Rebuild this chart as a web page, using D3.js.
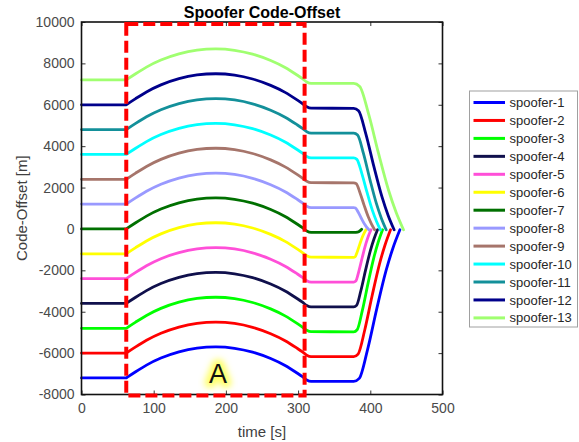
<!DOCTYPE html>
<html>
<head>
<meta charset="utf-8">
<script src="https://cdn.jsdelivr.net/npm/d3@7/dist/d3.min.js"></script>
<style>
  html, body { margin: 0; padding: 0; background: #ffffff; }
  svg { display: block; font-family: "Liberation Sans", Arial, sans-serif; }
</style>
</head>
<body>
<svg id="chart" width="579" height="442"></svg>
<script>
// ---------------- DATA ----------------
const seriesNames = ["spoofer-1","spoofer-2","spoofer-3","spoofer-4","spoofer-5","spoofer-6","spoofer-7",
                     "spoofer-8","spoofer-9","spoofer-10","spoofer-11","spoofer-12","spoofer-13"];
const seriesColors = ["#0000ff","#ff0000","#00ff00","#10104c","#ff4fd8","#ffff00","#007000",
                      "#9999ff","#a6756b","#00ffff","#13909a","#00008b","#a0ff70"];

// shared time grid (s) for the constant / arc / post-arc part
const timeArc = [0, 62, 63, 75, 90, 110, 135, 160, 186, 212, 237, 262, 282, 298, 306, 312, 318, 377];

// code offset (m) of each spoofer on timeArc
const arcValues = [
  [-7200,-7200,-7176,-6900,-6580,-6240,-5940,-5760,-5700,-5766,-5954,-6264,-6600,-6950,-7140,-7300,-7365,-7370],
  [-6000,-6000,-5976,-5700,-5380,-5040,-4740,-4560,-4500,-4566,-4754,-5064,-5400,-5750,-5940,-6100,-6165,-6170],
  [-4800,-4800,-4776,-4500,-4180,-3840,-3540,-3360,-3300,-3366,-3554,-3864,-4200,-4550,-4740,-4900,-4965,-4970],
  [-3600,-3600,-3576,-3300,-2980,-2640,-2340,-2160,-2100,-2166,-2354,-2664,-3000,-3350,-3540,-3700,-3765,-3770],
  [-2400,-2400,-2376,-2100,-1780,-1440,-1140,-960,-900,-966,-1154,-1464,-1800,-2150,-2340,-2500,-2565,-2570],
  [-1200,-1200,-1176,-900,-580,-240,60,240,300,234,46,-264,-600,-950,-1140,-1300,-1365,-1370],
  [0,0,24,300,620,960,1260,1440,1500,1434,1246,936,600,250,60,-100,-165,-170],
  [1200,1200,1224,1500,1820,2160,2460,2640,2700,2634,2446,2136,1800,1450,1260,1100,1035,1030],
  [2400,2400,2424,2700,3020,3360,3660,3840,3900,3834,3646,3336,3000,2650,2460,2300,2235,2230],
  [3600,3600,3624,3900,4220,4560,4860,5040,5100,5034,4846,4536,4200,3850,3660,3500,3435,3430],
  [4800,4800,4824,5100,5420,5760,6060,6240,6300,6234,6046,5736,5400,5050,4860,4700,4635,4630],
  [6000,6000,6024,6300,6620,6960,7260,7440,7500,7434,7246,6936,6600,6250,6060,5900,5835,5830],
  [7200,7200,7224,7500,7820,8160,8460,8640,8700,8634,8446,8136,7800,7450,7260,7100,7035,7030]
];

// converging tail of each spoofer (after t = 377 s)
const tailTimes = [
  [384.7, 396.2, 409, 421.8, 431.4, 441],
  [383.1, 392.3, 402.5, 412.7, 420.4, 428],
  [381.8, 389, 397, 405, 411, 417],
  [381, 386.9, 393.5, 400.1, 405.1, 410],
  [379.9, 384.2, 389, 393.8, 397.4, 401],
  [379, 382.1, 385.5, 388.9, 391.5, 394],
  [380, 384, 386.5, 388],
  [379.5, 383.3, 387.5, 391.7, 394.9, 398],
  [380.5, 385.7, 391.5, 397.3, 401.7, 406],
  [381.4, 388.1, 395.5, 402.9, 408.5, 414],
  [382.4, 390.5, 399.5, 408.5, 415.3, 422],
  [383.7, 393.8, 405, 416.2, 424.6, 433],
  [385.3, 397.7, 411.5, 425.3, 435.7, 446]
];
const tailValues = [
  [-7223, -5831, -3852, -2019, -920, -40],
  [-6047, -4883, -3228, -1695, -776, -40],
  [-4871, -3935, -2604, -1371, -632, -40],
  [-3695, -2987, -1980, -1047, -488, -40],
  [-2519, -2039, -1356, -723, -344, -40],
  [-1343, -1091, -732, -399, -200, -40],
  [-165, -130, -70, -15],
  [1009, 805, 516, 249, 88, -40],
  [2185, 1753, 1140, 573, 232, -40],
  [3361, 2701, 1764, 897, 376, -40],
  [4537, 3649, 2388, 1221, 520, -40],
  [5713, 4597, 3012, 1545, 664, -40],
  [6889, 5545, 3636, 1869, 808, -40]
];

const xTicks = [0, 100, 200, 300, 400, 500];
const yTicks = [-8000, -6000, -4000, -2000, 0, 2000, 4000, 6000, 8000, 10000];
const boxX = [62, 309];      // region "A" (time, s)
const boxY = [-8050, 9900];  // region "A" (code offset, m)
const boxLabel = {text: "A", t: 189, v: -7450};

// ---------------- CHART ----------------
const svg = d3.select("#chart");
const x = d3.scaleLinear().domain([0, 500]).range([81.5, 442.5]);
const y = d3.scaleLinear().domain([-8000, 10000]).range([394.5, 22]);
const plainFormat = d => String(d);

svg.append("rect").attr("width", 579).attr("height", 442).attr("fill", "#ffffff");

const defs = svg.append("defs");
const glow = defs.append("filter").attr("id", "glow")
  .attr("x", "-60%").attr("y", "-60%").attr("width", "220%").attr("height", "220%");
glow.append("feGaussianBlur").attr("stdDeviation", 3);

// axes (ticks inside)
const tickLabelColor = "#4a4a4a";
const gx = svg.append("g").attr("transform", `translate(0,${y.range()[0]})`)
  .call(d3.axisBottom(x).tickValues(xTicks).tickFormat(plainFormat).tickSizeInner(-4).tickSizeOuter(0).tickPadding(9));
const gxTop = svg.append("g").attr("transform", `translate(0,${y.range()[1]})`)
  .call(d3.axisTop(x).tickValues(xTicks).tickSizeInner(-4).tickSizeOuter(0).tickFormat(""));
const gy = svg.append("g").attr("transform", `translate(${x.range()[0]},0)`)
  .call(d3.axisLeft(y).tickValues(yTicks).tickFormat(plainFormat).tickSizeInner(-4).tickSizeOuter(0).tickPadding(7));
const gyRight = svg.append("g").attr("transform", `translate(${x.range()[1]},0)`)
  .call(d3.axisRight(y).tickValues(yTicks).tickSizeInner(-4).tickSizeOuter(0).tickFormat(""));

[gx, gxTop, gy, gyRight].forEach(g => {
  g.select(".domain").remove();
  g.selectAll(".tick line").attr("stroke", "#333333").attr("stroke-width", 1);
  g.selectAll(".tick text").attr("fill", tickLabelColor).attr("font-size", 14)
    .attr("font-family", "'Liberation Sans', Arial, sans-serif");
});

// lines
const line = d3.line().x(d => x(d[0])).y(d => y(d[1])).curve(d3.curveMonotoneX);
const linesG = svg.append("g");
seriesNames.forEach((name, i) => {
  const pts = timeArc.map((t, k) => [t, arcValues[i][k]])
    .concat(tailTimes[i].map((t, k) => [t, tailValues[i][k]]));
  linesG.append("path")
    .attr("d", line(pts))
    .attr("fill", "none")
    .attr("stroke", seriesColors[i])
    .attr("stroke-width", 2.8)
    .attr("stroke-linejoin", "round")
    .attr("stroke-linecap", "round");
});

// plot frame
svg.append("rect")
  .attr("x", x.range()[0]).attr("y", y.range()[1])
  .attr("width", x.range()[1] - x.range()[0])
  .attr("height", y.range()[0] - y.range()[1])
  .attr("fill", "none").attr("stroke", "#111111").attr("stroke-width", 1.6);

// red dashed region box
svg.append("rect")
  .attr("x", x(boxX[0])).attr("y", y(boxY[1]))
  .attr("width", x(boxX[1]) - x(boxX[0]))
  .attr("height", y(boxY[0]) - y(boxY[1]))
  .attr("fill", "none").attr("stroke", "#ff0000").attr("stroke-width", 4)
  .attr("stroke-dasharray", "12,5");

// "A" label with yellow glow
svg.append("text")
  .attr("x", x(boxLabel.t)).attr("y", y(boxLabel.v))
  .attr("text-anchor", "middle").attr("font-size", 27)
  .attr("fill", "#ffff66").attr("stroke", "#ffff66").attr("stroke-width", 9)
  .attr("stroke-linejoin", "round")
  .attr("filter", "url(#glow)")
  .text(boxLabel.text);
svg.append("text")
  .attr("x", x(boxLabel.t)).attr("y", y(boxLabel.v))
  .attr("text-anchor", "middle").attr("font-size", 27)
  .attr("fill", "#111111")
  .text(boxLabel.text);

// title and axis labels
svg.append("text").attr("x", (x.range()[0] + x.range()[1]) / 2).attr("y", 18)
  .attr("text-anchor", "middle").attr("font-size", 16).attr("font-weight", "bold")
  .attr("fill", "#000000").text("Spoofer Code-Offset");
svg.append("text").attr("x", (x.range()[0] + x.range()[1]) / 2).attr("y", 437)
  .attr("text-anchor", "middle").attr("font-size", 15)
  .attr("fill", "#404040").text("time [s]");
svg.append("text")
  .attr("transform", `translate(27,${(y.range()[0] + y.range()[1]) / 2}) rotate(-90)`)
  .attr("text-anchor", "middle").attr("font-size", 15)
  .attr("fill", "#404040").text("Code-Offset [m]");

// legend
const legend = svg.append("g");
legend.append("rect").attr("x", 469.5).attr("y", 91).attr("width", 108).attr("height", 236)
  .attr("fill", "#ffffff").attr("stroke", "#a0a0a0").attr("stroke-width", 1);
seriesNames.forEach((name, i) => {
  const ly = 102.5 + i * 17.95;
  legend.append("line").attr("x1", 473.5).attr("x2", 505).attr("y1", ly).attr("y2", ly)
    .attr("stroke", seriesColors[i]).attr("stroke-width", 3);
  legend.append("text").attr("x", 509.5).attr("y", ly).attr("dy", "0.35em")
    .attr("font-size", 13).attr("fill", "#262626").text(name);
});
</script>
</body>
</html>
